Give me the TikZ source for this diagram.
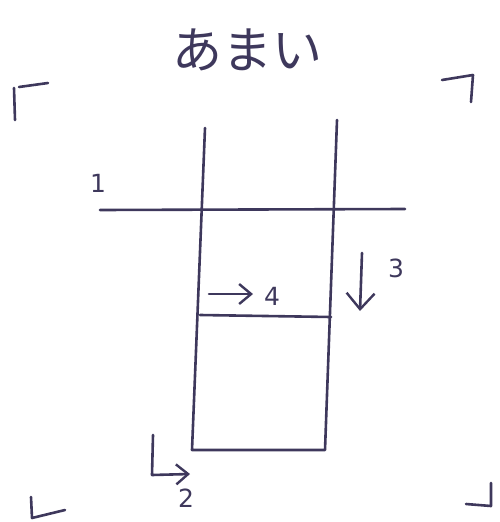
\documentclass[tikz,border=0pt]{standalone}
\usepackage{fontspec}
\newfontfamily\cjk{Noto Sans CJK JP}
\setmainfont{DejaVu Sans}
\usetikzlibrary{arrows.meta}
\definecolor{ink}{RGB}{62,56,92}
\tikzset{
  pen/.style={draw=ink, line width=2.6pt, line cap=round, line join=round},
  lbl/.style={text=ink, font=\fontsize{25}{25}\selectfont, inner sep=0pt},
  tip/.style={-{Straight Barb[length=12pt,width=20pt,line width=2.4pt]}},
  bigtip/.style={-{Straight Barb[length=16pt,width=28pt,line width=2.4pt]}}
}
\begin{document}
\begin{tikzpicture}[x=1pt,y=-1pt]
\useasboundingbox (0,0) rectangle (500,522);
% title
\node[text=ink, font=\cjk\fontsize{50}{50}\selectfont, inner sep=0pt] (title) at (247,50) {あまい};
% corner marks
\draw[pen] (14,88) -- (15,120);
\draw[pen] (19,87) -- (48,83);
\draw[pen] (442,80) -- (473,75) -- (471,102);
\draw[pen] (31,497) -- (32,518) -- (65,510);
\draw[pen] (466,504) -- (491,506) -- (491,483);
% main frame
\coordinate (lt) at (205,128);
\coordinate (lb) at (192,450);
\coordinate (rt) at (337,120);
\coordinate (rb) at (325,450);
\draw[pen] (lt) -- (lb) -- (rb) -- (rt);
% horizontal line 1
\coordinate (h1a) at (100,210);
\coordinate (h1b) at (405,209);
\draw[pen] (h1a) -- (h1b);
\node[lbl] (n1) at (98,183) {1};
% middle line
\coordinate (m1) at (200,315);
\coordinate (m2) at (331,317);
\draw[pen] (m1) -- (m2);
% arrow 4
\coordinate (a4s) at (209,294);
\coordinate (a4e) at (253,294);
\draw[pen,tip] (a4s) -- (a4e);
\node[lbl] (n4) at (272,296) {4};
% arrow 3
\coordinate (a3s) at (362,253);
\coordinate (a3e) at (360,311);
\draw[pen,bigtip] (a3s) -- (a3e);
\node[lbl] (n3) at (396,268) {3};
% arrow 2
\coordinate (a2s) at (153,435);
\coordinate (a2c) at (152,475);
\coordinate (a2e) at (190,474);
\draw[pen,tip] (a2s) -- (a2c) -- (a2e);
\node[lbl] (n2) at (186,498) {2};
\end{tikzpicture}
\end{document}
